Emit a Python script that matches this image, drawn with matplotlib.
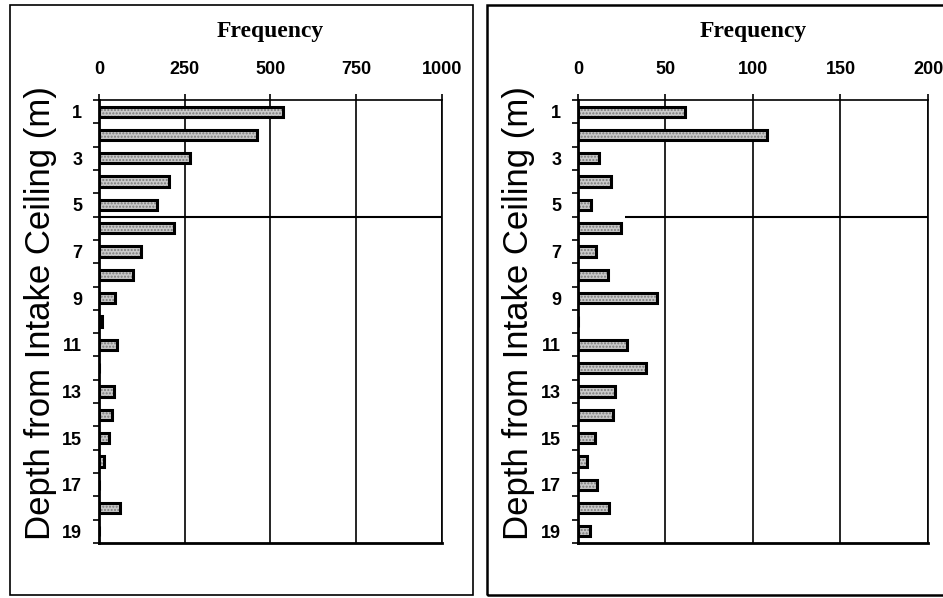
import matplotlib.pyplot as plt
from matplotlib.patches import Rectangle

# depth rows 1..19 (m from intake ceiling)
depth = list(range(1, 20))
freq_left = [535, 462, 265, 203, 169, 218, 122, 99, 47, 10,
             52, 0, 44, 37, 29, 15, 0, 61, 0]
freq_right = [61, 108, 12, 19, 7.5, 24.5, 10.5, 17, 45, 0,
              28, 39, 21, 20, 10, 5, 11, 18, 7]
left_ticks = [0, 250, 500, 750, 1000]
right_ticks = [0, 50, 100, 150, 200]
row_labels = [1, 3, 5, 7, 9, 11, 13, 15, 17, 19]

plt.rcParams['font.family'] = ['Liberation Sans', 'DejaVu Sans']

fig = plt.figure(figsize=(9.43, 5.98), dpi=100)

# panel frames
fig.patches.append(Rectangle((0.0106, 0.005), 0.491, 0.9866, transform=fig.transFigure,
                             fill=False, edgecolor='black', linewidth=1.2))
fig.patches.append(Rectangle((0.5164, 0.005), 0.49, 0.9866, transform=fig.transFigure,
                             fill=False, edgecolor='black', linewidth=1.8))


def panel(rect, values, ticks, line_start, dark_row=None):
    ax = fig.add_axes(rect)
    colors = ['black' if (i + 1) == dark_row else '#c8c8c8' for i in range(len(values))]
    ax.barh(depth, values, height=0.44, color=colors, hatch='.....',
            edgecolor='#7a7a7a', linewidth=0, zorder=3)
    ax.barh(depth, values, height=0.44, fill=False, edgecolor='black',
            linewidth=2.2, zorder=4)
    ax.set_xlim(ticks[0], ticks[-1])
    ax.set_ylim(19.5, 0.5)
    ax.hlines(5.5, line_start, ticks[-1], color='black', linewidth=1.5, zorder=5)
    ax.xaxis.tick_top()
    ax.set_xticks(ticks)
    ax.tick_params(axis='x', direction='out', length=4, width=1.2, pad=12, labelsize=13)
    ax.grid(axis='x', color='black', linewidth=1.2, zorder=1)
    ax.set_yticks(row_labels)
    ax.set_yticks([i + 0.5 for i in range(0, 20)], minor=True)
    ax.tick_params(axis='y', which='major', length=0, pad=12, labelsize=13)
    ax.tick_params(axis='y', which='minor', direction='out', length=4, width=1.2)
    for lbl in ax.get_xticklabels() + ax.get_yticklabels():
        lbl.set_fontweight('bold')
    for s in ['left', 'bottom']:
        ax.spines[s].set_linewidth(2)
    for s in ['top', 'right']:
        ax.spines[s].set_linewidth(1.2)
    ax.set_ylabel('Depth from Intake Ceiling (m)', fontsize=25, va='center')
    ax.yaxis.set_label_coords(-0.17, 0.52)
    fig.text(rect[0] + rect[2] / 2, 0.9465, 'Frequency', ha='center', va='center',
             family=['Liberation Serif'], fontweight='bold', fontsize=17)
    return ax


panel([0.1050, 0.0920, 0.3637, 0.7408], freq_left, left_ticks, 0, dark_row=10)
panel([0.6129, 0.0920, 0.3712, 0.7408], freq_right, right_ticks, 27)

fig.savefig('out.png', dpi=100)
